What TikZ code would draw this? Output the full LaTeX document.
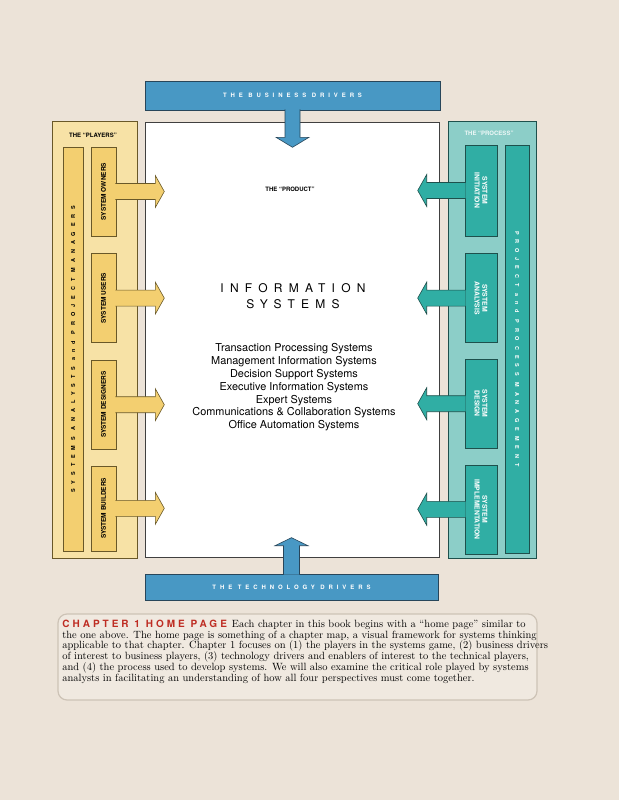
\documentclass[tikz,border=0pt]{standalone}
\usepackage{fontspec}
\setsansfont{TeX Gyre Heros}
\newfontfamily\drvfont[LetterSpace=65]{TeX Gyre Heros}
\newfontfamily\isfont[LetterSpace=52]{TeX Gyre Heros}
\newfontfamily\barfont[LetterSpace=90]{TeX Gyre Heros}
\newfontfamily\chapfont[LetterSpace=30]{TeX Gyre Heros}
\usetikzlibrary{positioning}
\usetikzlibrary{calc}

\definecolor{pagebg}{RGB}{236,227,216}
\definecolor{drvblue}{RGB}{72,152,196}
\definecolor{drvline}{RGB}{40,70,90}
\definecolor{plpale}{RGB}{247,226,166}
\definecolor{plgold}{RGB}{243,207,112}
\definecolor{plline}{RGB}{105,88,40}
\definecolor{prpale}{RGB}{140,206,200}
\definecolor{prteal}{RGB}{48,174,164}
\definecolor{prline}{RGB}{30,80,76}
\definecolor{capred}{RGB}{190,45,35}
\definecolor{capline}{RGB}{205,195,182}
\definecolor{capfill}{RGB}{240,233,224}

\begin{document}
\begin{tikzpicture}[x=1pt, y=-1pt, line width=0.6pt,
    every node/.style={inner sep=0pt},
    drvbox/.style={draw=drvline, fill=drvblue, text=white, font=\drvfont\bfseries\fontsize{6}{7}\selectfont},
    drvarrow/.style={draw=drvline, fill=drvblue, line join=miter},
    plbox/.style={draw=plline, fill=plpale},
    plsub/.style={draw=plline, fill=plgold},
    plarrow/.style={draw=plline, fill=plgold, line join=miter},
    prbox/.style={draw=prline, fill=prpale},
    prsub/.style={draw=prline, fill=prteal},
    prarrow/.style={draw=prline, fill=prteal, line join=miter},
    subtxt/.style={font=\sffamily\bfseries\fontsize{6.5}{7.5}\selectfont},
    stagetxt/.style={rotate=-90, text=white, align=center, font=\sffamily\bfseries\fontsize{6.8}{7.6}\selectfont},
    bartxt/.style={font=\barfont\bfseries\fontsize{5.5}{6}\selectfont},
    headtxt/.style={font=\sffamily\bfseries\fontsize{6}{7}\selectfont}]

  % page
  \fill[pagebg] (0,0) rectangle (619,800);
  \useasboundingbox (0,0) rectangle (619,800);

  % the product
  \node[draw=black!75, fill=white, minimum width=294, minimum height=435] (product) at (292,339.5) {};
  \node[headtxt] (productT) at (290,189) {THE “PRODUCT”};
  \node[font=\isfont\fontsize{12}{16}\selectfont, align=center] (infosys) at (293,296) {INFORMATION\\SYSTEMS};
  \node[font=\sffamily\fontsize{10.9}{12.8}\selectfont, align=center] (kinds) at (294,387.5)
    {Transaction Processing Systems\\Management Information Systems\\Decision Support Systems\\
     Executive Information Systems\\Expert Systems\\Communications \& Collaboration Systems\\
     Office Automation Systems};

  % the drivers
  \node[drvbox, minimum width=295, minimum height=29] (busdrv) at (292.5,95.5) {THE BUSINESS DRIVERS};
  \draw[drvarrow] (busdrv.south) ++(-7.5,-1) -- ++(0,28) -- ++(-9,0) -- ++(16.5,10) -- ++(16.5,-10) -- ++(-9,0) -- ++(0,-28);
  \node[drvbox, minimum width=293, minimum height=26] (techdrv) at (291.5,587) {THE TECHNOLOGY DRIVERS};
  \draw[drvarrow] (techdrv.north) ++(-8,1) -- ++(0,-29) -- ++(-8.5,0) -- ++(16.5,-8) -- ++(16.5,8) -- ++(-8.5,0) -- ++(0,29);

  % the players
  \node[plbox, minimum width=85, minimum height=437] (players) at (94.5,339.5) {};
  \node[headtxt] (playersT) at (93,135) {THE “PLAYERS”};
  \node[plsub, minimum width=20, minimum height=404,
        label={[rotate=90, bartxt]center:SYSTEMS ANALYSTS and PROJECT MANAGERS}] (analysts) at (73,349) {};
  \node[plsub, minimum width=25, minimum height=89, label={[rotate=90, subtxt]center:SYSTEM OWNERS}] (owners) at (103.5,191.5) {};
  \node[plsub, minimum width=25, minimum height=89, below=17pt of owners, label={[rotate=90, subtxt]center:SYSTEM USERS}] (users) {};
  \node[plsub, minimum width=25, minimum height=89, below=17pt of users, label={[rotate=90, subtxt]center:SYSTEM DESIGNERS}] (designers) {};
  \node[plsub, minimum width=25, minimum height=85, below=16pt of designers, label={[rotate=90, subtxt]center:SYSTEM BUILDERS}] (builders) {};
  \draw[plarrow] (owners.east) ++(-1,-8) -- ++(40,0) -- ++(0,-8) -- ++(9,16) -- ++(-9,16) -- ++(0,-8) -- ++(-40,0);
  \draw[plarrow] (users.east) ++(-1,-8) -- ++(40,0) -- ++(0,-8) -- ++(9,16) -- ++(-9,16) -- ++(0,-8) -- ++(-40,0);
  \draw[plarrow] (designers.east) ++(-1,-8) -- ++(40,0) -- ++(0,-8) -- ++(9,16) -- ++(-9,16) -- ++(0,-8) -- ++(-40,0);
  \draw[plarrow] (builders.east) ++(-1,-8) -- ++(40,0) -- ++(0,-8) -- ++(9,16) -- ++(-9,16) -- ++(0,-8) -- ++(-40,0);

  % the process
  \node[prbox, minimum width=88, minimum height=437] (process) at (492,339.5) {};
  \node[headtxt, text=white!85!prpale] (processT) at (489,133) {THE “PROCESS”};
  \node[prsub, minimum width=24, minimum height=408,
        label={[rotate=-90, bartxt, text=white]center:PROJECT and PROCESS MANAGEMENT}] (projmgmt) at (517,349) {};
  \node[prsub, minimum width=32, minimum height=91, label={[stagetxt]center:{SYSTEM\\INITIATION}}] (initiation) at (481,190.5) {};
  \node[prsub, minimum width=32, minimum height=89, below=17pt of initiation, label={[stagetxt]center:{SYSTEM\\ANALYSIS}}] (analysis) {};
  \node[prsub, minimum width=32, minimum height=89, below=16pt of analysis, label={[stagetxt]center:{SYSTEM\\DESIGN}}] (design) {};
  \node[prsub, minimum width=32, minimum height=89, below=16pt of design, label={[stagetxt]center:{SYSTEM\\IMPLEMENTATION}}] (implementation) {};
  \draw[prarrow] (initiation.west) ++(1,-8) -- ++(-39,0) -- ++(0,-8) -- ++(-9,16) -- ++(9,16) -- ++(0,-8) -- ++(39,0);
  \draw[prarrow] (analysis.west) ++(1,-8) -- ++(-39,0) -- ++(0,-8) -- ++(-9,16) -- ++(9,16) -- ++(0,-8) -- ++(39,0);
  \draw[prarrow] (design.west) ++(1,-8) -- ++(-39,0) -- ++(0,-8) -- ++(-9,16) -- ++(9,16) -- ++(0,-8) -- ++(39,0);
  \draw[prarrow] (implementation.west) ++(1,-8) -- ++(-39,0) -- ++(0,-8) -- ++(-9,16) -- ++(9,16) -- ++(0,-8) -- ++(39,0);

  % caption
  \node[draw=capline, fill=capfill, line width=1.2pt, rounded corners=9, minimum width=479, minimum height=86] (capbox) at (297.5,657) {};
  \node[anchor=north west, align=left, font=\rmfamily\fontsize{10.5}{10.8}\selectfont] (captxt) at (62,619.5)
    {{\chapfont\bfseries\color{capred}\fontsize{10}{10}\selectfont CHAPTER 1 HOME PAGE}\hspace{5pt}Each chapter in this book begins with a “home page” similar to\\
     the one above. The home page is something of a chapter map, a visual framework for systems thinking\\
     applicable to that chapter. Chapter 1 focuses on (1) the players in the systems game, (2) business drivers\\
     of interest to business players, (3) technology drivers and enablers of interest to the technical players,\\
     and (4) the process used to develop systems. We will also examine the critical role played by systems\\
     analysts in facilitating an understanding of how all four perspectives must come together.};
\end{tikzpicture}
\end{document}
